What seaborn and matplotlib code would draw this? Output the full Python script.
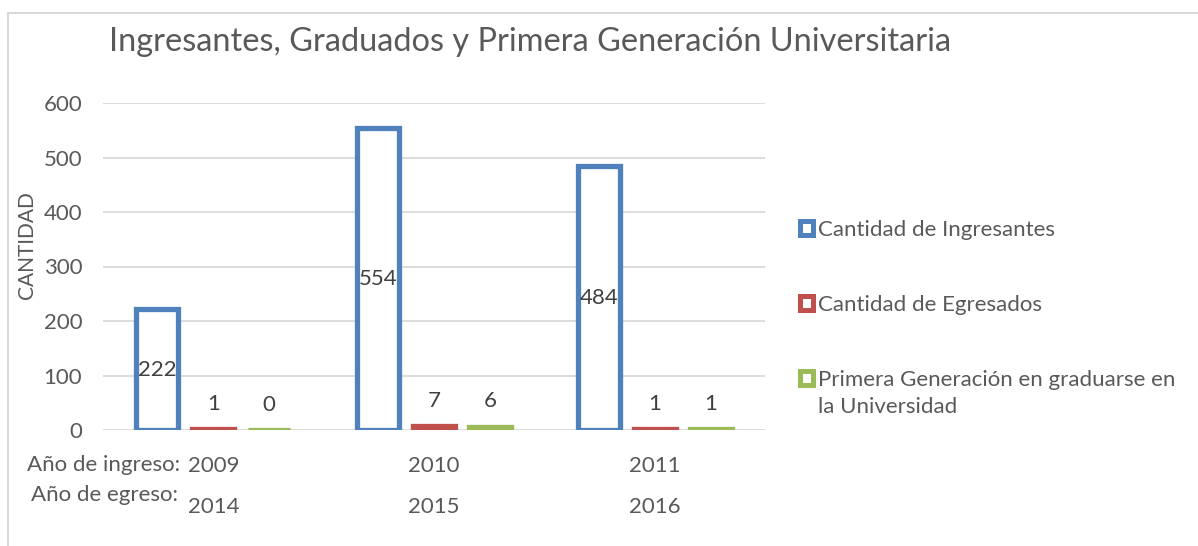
import pandas as pd
import matplotlib.pyplot as plt
import seaborn as sns
from matplotlib.patches import Patch, Rectangle
from matplotlib.transforms import blended_transform_factory

# --- Data ---
anio_ingreso = ["2009", "2010", "2011"]
anio_egreso = ["2014", "2015", "2016"]
ingresantes = [222, 554, 484]
egresados = [1, 7, 1]
primera_gen = [0, 6, 1]
series = ["Cantidad de Ingresantes", "Cantidad de Egresados",
          "Primera Generación en graduarse en la Universidad"]
legend_labels = ["Cantidad de Ingresantes", "Cantidad de Egresados",
                 "Primera Generación en graduarse en"]
legend_wrap = "la Universidad"
colors = ["#4F81BD", "#C0504D", "#9BBB59"]

rows = []
for name, vals in zip(series, [ingresantes, egresados, primera_gen]):
    for year, v in zip(anio_ingreso, vals):
        rows.append({"ingreso": year, "serie": name, "cantidad": v})
df = pd.DataFrame(rows)

sns.set_theme(style="white")
plt.rcParams['font.family'] = ['Lato', 'DejaVu Sans']
TXT = "#595959"
FS = 16

fig = plt.figure(figsize=(11.98, 5.46), dpi=100)
ax = fig.add_axes([103 / 1198, 1 - 430 / 546, 662 / 1198, 327 / 546])

sns.barplot(data=df, x="ingreso", y="cantidad", hue="serie", hue_order=series,
            palette=colors, fill=False, linewidth=3.8, width=0.76, gap=0.25,
            legend=False, ax=ax)

for patch in ax.patches:
    patch.set_facecolor("white")
    patch.set_zorder(3)

# value labels
ax.bar_label(ax.containers[0], label_type="center", fontsize=FS, color="#404040", zorder=4)
for cont in ax.containers[1:]:
    ax.bar_label(cont, padding=11, fontsize=FS, color="#404040")

ax.set_ylim(0, 600)
ax.set_xlim(-0.5, 2.5)
ax.set_yticks(range(0, 601, 100))
ax.yaxis.grid(True, color="#D9D9D9", linewidth=1.3)
ax.set_axisbelow(True)
for s in ax.spines.values():
    s.set_visible(False)
ax.tick_params(axis="y", length=0, pad=15, labelsize=FS, labelcolor=TXT)
ax.tick_params(axis="x", length=0, pad=19, labelsize=FS, labelcolor=TXT)
ax.set_xticks(range(len(anio_ingreso)))
ax.set_xticklabels(anio_ingreso)
ax.set_xlabel("")
ax.set_ylabel("")

trans = blended_transform_factory(ax.transData, ax.transAxes)
for i, y in enumerate(anio_egreso):
    ax.text(i, (430 - 507) / 327, y, transform=trans, ha="center", va="center",
            fontsize=FS, color=TXT)

fig.text(180 / 1198, 1 - 465 / 546, "Año de ingreso:", ha="right", va="center",
         fontsize=FS, color=TXT)
fig.text(178 / 1198, 1 - 495 / 546, "Año de egreso:", ha="right", va="center",
         fontsize=FS, color=TXT)
fig.text(27 / 1198, 1 - 245 / 546, "CANTIDAD", rotation=90, ha="center", va="center",
         fontsize=15, color=TXT)

fig.text(530 / 1198, 1 - 42 / 546, "Ingresantes, Graduados y Primera Generación Universitaria",
         ha="center", va="center", fontsize=23.4, color=TXT)

handles = [Patch(facecolor="white", edgecolor=c, linewidth=3.6) for c in colors]
leg = fig.legend(handles, legend_labels, loc="upper left",
                 bbox_to_anchor=(800 / 1198, 1 - 220 / 546),
                 frameon=False, fontsize=FS, labelcolor=TXT, handlelength=0.6,
                 handleheight=0.6, handletextpad=0.2, labelspacing=2.47,
                 borderpad=0, borderaxespad=0)

# second line of the last legend entry, aligned under its first line
fig.canvas.draw()
bb = leg.get_texts()[2].get_window_extent().transformed(fig.transFigure.inverted())
fig.text(bb.x0, bb.y0 - 27 / 546, legend_wrap, ha="left", va="bottom",
         fontsize=FS, color=TXT)

# chart border
fig.add_artist(Rectangle((8 / 1198, -0.1), 1.2, 1.1 - 13 / 546, transform=fig.transFigure,
                         fill=False, edgecolor="#D9D9D9", linewidth=1.5))

fig.savefig("out.png", dpi=100)
